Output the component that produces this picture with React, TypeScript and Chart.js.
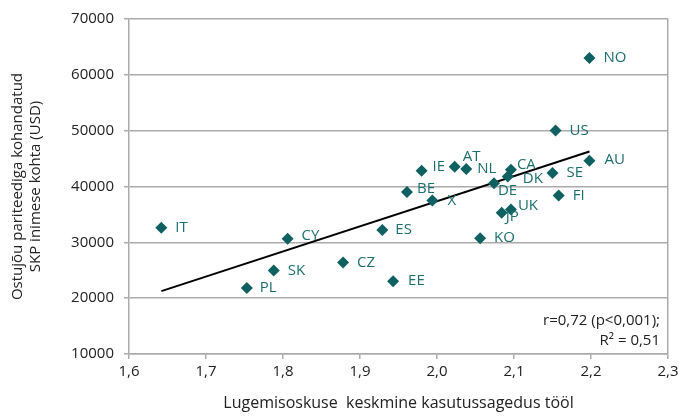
import React, { useEffect, useRef } from 'react';
import { Chart, registerables } from 'chart.js';

Chart.register(...registerables);

// ---- data ----
const countries = ['IT', 'PL', 'SK', 'CY', 'CZ', 'ES', 'EE', 'BE', 'IE', 'X', 'AT', 'NL', 'KO', 'DE', 'JP', 'DK', 'CA', 'UK', 'SE', 'US', 'FI', 'NO', 'AU'];
const readingUse = [1.642, 1.753, 1.788, 1.806, 1.878, 1.929, 1.943, 1.961, 1.980, 1.994, 2.023, 2.038, 2.056, 2.074, 2.084, 2.092, 2.096, 2.096, 2.150, 2.154, 2.158, 2.198, 2.198];
const gdpPerCapita = [32600, 21800, 24950, 30650, 26400, 32200, 23050, 39000, 42800, 37500, 43550, 43150, 30750, 40600, 35300, 41800, 43000, 35900, 42400, 50050, 38400, 63000, 44600];
const xAxisTitle = 'Lugemisoskuse  keskmine kasutussagedus tööl';
const yAxisTitle = ['Ostujõu pariteediga kohandatud', 'SKP inimese kohta (USD)'];
const statLines = ['r=0,72 (p<0,001);', 'R² = 0,51'];

// ---- label placement (style, not data) ----
const labelOffsets: Record<string, [number, number]> = {
  NO: [14, 0], US: [14, 0], AU: [15, -1], SE: [14, 0], FI: [14, 0],
  CA: [6, -5], DK: [15, 2], DE: [4, 8], UK: [7, -4], JP: [4, 4],
  KO: [14, 0], X: [15, 0], BE: [10, -3], IE: [11, -4], AT: [8, -10],
  NL: [11, 0], ES: [13, 0], IT: [14, 0], CY: [14, -3], CZ: [14, 0],
  SK: [14, 0], PL: [13, 0], EE: [15, 0],
};

const FONT = "'Open Sans', sans-serif";
const GRID = '#ababab';
const MARKER = '#0f6060';
const LABEL = '#1e6e6e';

function regression(xs: number[], ys: number[]) {
  const n = xs.length;
  const mx = xs.reduce((a, b) => a + b, 0) / n;
  const my = ys.reduce((a, b) => a + b, 0) / n;
  let sxy = 0, sxx = 0;
  for (let i = 0; i < n; i++) {
    sxy += (xs[i] - mx) * (ys[i] - my);
    sxx += (xs[i] - mx) * (xs[i] - mx);
  }
  const b = sxy / sxx;
  return { a: my - b * mx, b };
}

const labelPlugin = {
  id: 'pointLabels',
  afterDatasetsDraw(chart: any) {
    const meta = chart.getDatasetMeta(0);
    const ctx = chart.ctx;
    ctx.save();
    ctx.font = `15px ${FONT}`;
    ctx.fillStyle = LABEL;
    ctx.textAlign = 'left';
    ctx.textBaseline = 'middle';
    meta.data.forEach((el: any, i: number) => {
      const name = countries[i];
      const [dx, dy] = labelOffsets[name] || [14, 0];
      ctx.fillText(name, el.x + dx, el.y + dy);
    });
    ctx.restore();
  },
  afterDraw(chart: any) {
    const ctx = chart.ctx;
    const area = chart.chartArea;
    ctx.save();
    ctx.font = `15px ${FONT}`;
    ctx.fillStyle = '#222';
    ctx.textAlign = 'right';
    ctx.textBaseline = 'middle';
    ctx.fillText(statLines[0], area.right - 8, area.bottom - 33);
    ctx.fillText(statLines[1], area.right - 8, area.bottom - 13);
    ctx.restore();
  },
};

export default function App() {
  const ref = useRef<HTMLCanvasElement>(null);
  useEffect(() => {
    document.body.style.margin = '0';
    const { a, b } = regression(readingUse, gdpPerCapita);
    const minX = Math.min(...readingUse);
    const maxX = Math.max(...readingUse);
    const chart = new Chart(ref.current!, {
      type: 'scatter',
      data: {
        datasets: [
          {
            data: readingUse.map((x, i) => ({ x, y: gdpPerCapita[i] })),
            pointStyle: 'rectRot',
            pointRadius: 6,
            pointBackgroundColor: MARKER,
            pointBorderColor: MARKER,
            pointBorderWidth: 0,
            showLine: false,
          },
          {
            type: 'line',
            data: [
              { x: minX, y: a + b * minX },
              { x: maxX, y: a + b * maxX },
            ],
            borderColor: '#000',
            borderWidth: 2,
            pointRadius: 0,
            fill: false,
          } as any,
        ],
      },
      options: {
        responsive: false,
        animation: false,
        events: [],
        layout: { padding: { left: 0, right: 15, top: 14, bottom: 0 } },
        plugins: { legend: { display: false }, tooltip: { enabled: false } },
        scales: {
          x: {
            type: 'linear',
            min: 1.6,
            max: 2.3,
            afterFit: (s: any) => { s.height = 62; },
            ticks: {
              stepSize: 0.1,
              padding: 4,
              color: '#222',
              font: { family: FONT, size: 15 },
              callback: (v: any) => Number(v).toFixed(1).replace('.', ','),
            },
            grid: {
              drawOnChartArea: true,
              color: (c: any) => (c.tick && Math.abs(c.tick.value - 2.3) < 1e-6 ? GRID : 'rgba(0,0,0,0)'),
              tickColor: GRID,
              tickLength: 5,
              lineWidth: 1.5,
            },
            border: { display: true, color: GRID, width: 1.5 },
            title: {
              display: true,
              text: xAxisTitle,
              color: '#222',
              font: { family: FONT, size: 16 },
              padding: { top: 0, bottom: 3 },
            },
          },
          y: {
            type: 'linear',
            min: 10000,
            max: 70000,
            afterFit: (s: any) => { s.width = 129; },
            ticks: {
              stepSize: 10000,
              padding: 10,
              color: '#222',
              font: { family: FONT, size: 15 },
              callback: (v: any) => String(v),
            },
            grid: {
              color: GRID,
              tickColor: GRID,
              tickLength: 5,
              lineWidth: 1.5,
            },
            border: { display: true, color: GRID, width: 1.5 },
            title: {
              display: true,
              text: yAxisTitle,
              color: '#222',
              font: { family: FONT, size: 15 },
              padding: { top: 9, bottom: 0 },
            },
          },
        },
      },
      plugins: [labelPlugin],
    });
    return () => chart.destroy();
  }, []);
  return (
    <div style={{ width: 683, height: 416 }}>
      <canvas ref={ref} width={683} height={416} style={{ display: 'block' }} />
    </div>
  );
}
